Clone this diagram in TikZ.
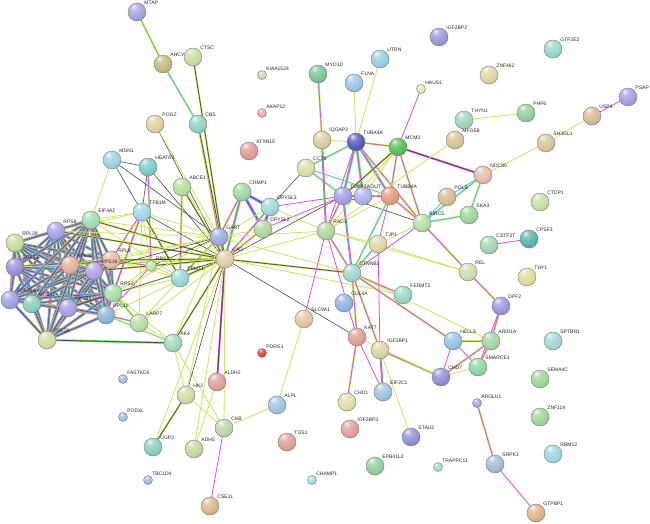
\documentclass[tikz,border=0pt]{standalone}
\usepackage{fontspec}
\setmainfont{Liberation Sans}
\usetikzlibrary{backgrounds}
\makeatletter
\pgfdeclareradialshading[tikz@ball]{sball}{\pgfqpoint{-10bp}{16bp}}{%
 color(0bp)=(tikz@ball!15!white); color(10bp)=(tikz@ball!75!white); color(26bp)=(tikz@ball); color(44bp)=(tikz@ball!82!black); color(56bp)=(tikz@ball!62!black); color(80bp)=(tikz@ball!55!black)}
\makeatother
\definecolor{cY}{HTML}{CCE65A}
\definecolor{cM}{HTML}{E448E4}
\definecolor{cK}{HTML}{4A4A4A}
\definecolor{cC}{HTML}{3CC8F0}
\definecolor{cG}{HTML}{44DD44}
\definecolor{cB}{HTML}{4040E0}
\tikzset{
 pnode/.style={circle,inner sep=0pt,draw=black!55,line width=0.35pt},
 lbl/.style={font=\fontsize{5}{6}\selectfont,inner sep=0.8pt,text=black!85},
 eY/.style={draw=cY,line width=0.8pt},
 eM/.style={draw=cM,line width=0.8pt},
 eK/.style={draw=cK,line width=0.6pt},
 eC/.style={draw=cC,line width=0.8pt},
 eG/.style={draw=cG,line width=0.8pt},
 dbl/.style 2 args={draw=#1,double=#2,line width=0.6pt,double distance=0.75pt},
 eYM/.style={dbl={cY}{cM}},
 eYK/.style={dbl={cY}{cK}},
 eYC/.style={dbl={cY}{cC}},
 eMK/.style={dbl={cM}{cK}},
 eMC/.style={dbl={cM}{cC}},
 eYG/.style={dbl={cY}{cG}},
 eMG/.style={dbl={cM}{cG}},
 eGK/.style={dbl={cG}{cK}},
}
\newcommand\pn[5][18pt]{\definecolor{nc#2}{HTML}{#5}\node[pnode,minimum size=#1,ball color=nc#2,shading=sball,label={[lbl]45:#2}] (#2) at (#3,#4) {};}
\newcommand\mx[2]{\draw[cY,line width=2.8pt](#1)--(#2);\draw[cC,line width=1.8pt](#1)--(#2);\draw[cM,line width=0.7pt](#1)--(#2);}
\newcommand\bx[2]{\draw[cM,line width=2.8pt](#1)--(#2);\draw[cC,line width=1.8pt](#1)--(#2);\draw[cB,line width=0.7pt](#1)--(#2);}
\newcommand\rx[2]{\draw[cY,line width=3pt](#1)--(#2);\draw[cM,line width=2.2pt](#1)--(#2);\draw[cC,line width=1.4pt](#1)--(#2);\draw[cK,line width=0.5pt](#1)--(#2);}
\begin{document}
\begin{tikzpicture}[x=1pt,y=-1pt]
\useasboundingbox (0,0) rectangle (650,524);
% left
\pn{MTAP}{137}{12}{A0A4E0}
\pn{AHCY}{163}{64}{C4BA80}
\pn{CTSC}{193}{57}{C4E0A0}
\pn{CBS}{198}{124}{90D4C4}
\pn{POGZ}{155}{124}{DCD2A0}
\pn{MDN1}{112}{160}{98D4E4}
\pn{HEATR1}{148}{167}{78CCC4}
\pn{ABCE1}{182}{187}{B4DE98}
\pn{TFB1M}{142}{212}{A0D4E6}
\pn{EIF4A2}{91}{220}{A0DCB2}
\pn{RPS8}{56}{231}{A8A0E6}
\pn{RPL29}{15}{243}{C4DE98}
\pn{RPS28}{15}{267}{9890DE}
\pn{RPL35}{70}{265}{E6AE9E}
\pn{RPL8}{111}{260}{E6BAA8}
\pn{RPS16}{94}{271}{B0A0EC}
\pn[11pt]{RRS1}{151}{266}{BCE4AA}
\pn{TRMT1}{180}{278}{98D6D6}
\pn{RPS2}{113}{293}{A8DEA8}
\pn{RPL36A}{10}{300}{A0A0E6}
\pn{RPS12}{32}{304}{88D0BC}
\pn{RPS19}{68}{308}{A8A0E6}
\pn{RPL11}{106}{315}{90B4D6}
\pn{LARP7}{139}{323}{B4DEA0}
\pn{RPL26}{47}{340}{CCDEA0}
\pn{AK4}{173}{343}{A0D6BC}
\pn{GART}{219}{237}{A0A8E6}
\pn{CAD}{225}{259}{E6CCA8}
\pn{CRMP1}{242}{192}{A0D6A0}
\pn{DPYSL3}{270}{207}{A0D6D6}
\pn{DPYSL2}{263}{229}{B4D6A0}
\pn{HK2}{186}{395}{CCDEA0}
\pn{ALDH2}{217}{382}{DEA0A0}
\pn{CKB}{224}{428}{BCD6AA}
\pn{ADH5}{194}{449}{C4D6A0}
\pn{UGP2}{153}{447}{88D0BC}
\pn[9pt]{FASTKD5}{123}{379}{A0BCE0}
\pn[9pt]{PODXL}{123}{417}{A0BCE0}
\pn[9pt]{TBC1D4}{148}{480}{A0BCE0}
\pn{CSE1L}{210}{506}{DEB490}
\pn{ALPL}{277}{405}{A0C4E0}
\pn{TGS1}{287}{442}{DEA098}
\pn[9pt]{CHAMP1}{312}{480}{A0DEDE}
\pn[9pt]{PDRG1}{262}{353}{E03C3C}
\pn[9pt]{KIAA1524}{262}{75}{C4E0A4}
\pn[9pt]{AKAP12}{262}{113}{EEAAAA}
\pn{ATXN10}{249}{151}{E49898}
\pn{SLC9A1}{304}{319}{E6C4A0}
% middle / right
\pn{MYO1D}{318}{74}{78C692}
\pn{FLNA}{354}{83}{A0C4E0}
\pn{UTRN}{380}{59}{98CEE0}
\pn{IQGAP2}{322}{140}{D6CEA0}
\pn{TUBA4A}{356}{142}{5858BC}
\pn{MCM3}{398}{147}{58BE58}
\pn{CCT8}{306}{168}{D6DEAA}
\pn{TUBB2A}{343}{196}{A0A0E6}
\pn{OUT}{363}{196}{A8B4E6}
\pn{TUBB4A}{390}{196}{E69C7C}
\pn{RAC3}{326}{231}{B4D6A0}
\pn{TJP1}{378}{244}{DED6A0}
\pn{BIRC5}{422}{223}{B4DEA8}
\pn{CTNNB1}{352}{273}{A0D6CC}
\pn{CUL4A}{344}{303}{90B4E0}
\pn{FERMT2}{403}{295}{98D6C4}
\pn{KAT7}{357}{337}{DEA090}
\pn{IGF2BP1}{380}{350}{D6D6A0}
\pn{CHD1}{347}{402}{DEDEAA}
\pn{IGF2BP3}{350}{429}{DEA0A0}
\pn{EIF2C1}{383}{392}{A0C4E0}
\pn{STAU2}{411}{437}{9090D6}
\pn{EPB41L2}{375}{466}{90CEA0}
\pn[9pt]{TRAPPC11}{438}{467}{A0DEBC}
\pn[9pt]{HAUS1}{421}{89}{E6E6AA}
\pn{IGF2BP2}{439}{37}{9898DE}
\pn{GTF2E2}{553}{49}{98D6CC}
\pn{ZNF462}{489}{75}{DED6A0}
\pn{THYN1}{464}{120}{A0D6BC}
\pn{PHF6}{526}{113}{90CEA0}
\pn{MFGE8}{455}{140}{D6C498}
\pn{USP4}{592}{116}{D6BC98}
\pn{PSAP}{628}{97}{A0A0DE}
\pn{SH3GL1}{546}{143}{D6C498}
\pn{NDC80}{483}{175}{E6BAA8}
\pn{POLB}{447}{197}{D6BC98}
\pn{SKA3}{469}{215}{A0D698}
\pn{CTDP1}{540}{202}{C4E0A0}
\pn{CSTF2T}{489}{245}{A0D6B4}
\pn{CPSF3}{529}{239}{58B4AC}
\pn{REL}{468}{272}{CCDEAA}
\pn{THY1}{527}{277}{DEDE98}
\pn{DPF2}{501}{306}{9898DE}
\pn{HELLS}{453}{341}{90C4E6}
\pn{ARID1A}{491}{341}{A0D6A0}
\pn{SPTBN1}{553}{341}{A0D6D6}
\pn{SMARCE1}{478}{367}{90D6A0}
\pn{CHD7}{441}{377}{9090D6}
\pn{SEMA4C}{540}{379}{A0D698}
\pn[9pt]{ARGLU1}{477}{403}{A8A8E6}
\pn{ZNF114}{540}{417}{A0D698}
\pn{RBM12}{553}{454}{A0D6E0}
\pn{SRPK1}{495}{464}{A0BCD6}
\pn{GTPBP1}{536}{513}{DEB488}
\begin{scope}[on background layer]
\fill[white] (0,0) rectangle (650,524);
% ribosomal cluster
\foreach \a [count=\i] in {RPS8,RPL29,RPS28,RPL35,RPL8,RPS16,RPS2,RPL36A,RPS12,RPS19,RPL11,RPL26,EIF4A2}{
 \foreach \b [count=\j] in {RPS8,RPL29,RPS28,RPL35,RPL8,RPS16,RPS2,RPL36A,RPS12,RPS19,RPL11,RPL26,EIF4A2}{
  \ifnum\i<\j \rx{\a}{\b}\fi }}
% top left
\draw[eYG] (MTAP)--(AHCY);
\draw[eYC] (AHCY)--(CBS);
\draw[eYM] (CBS)--(GART);
\draw[eYK] (CBS)--(CAD);
\draw[eYK] (CTSC)--(CAD);
\draw[eK] (POGZ)--(CAD);
\draw[eY] (POGZ)--(GART);
\draw[eK] (MDN1)--(HEATR1);
\draw[eY] (MDN1)--(EIF4A2);
\draw[eK] (MDN1)--(GART);
\draw[eK] (MDN1)--(TRMT1);
\draw[eYM] (HEATR1)--(RRS1);
\draw[eK] (HEATR1)--(CAD);
\draw[eK] (HEATR1)--(TFB1M);
\draw[eYM] (ABCE1)--(TRMT1);
\draw[eYK] (ABCE1)--(CAD);
\draw[eY] (ABCE1)--(GART);
\foreach \b in {EIF4A2,RPS8,RRS1,LARP7,GART} \draw[eY] (TFB1M)--(\b);
\draw[eYM] (TFB1M)--(RPL8); \draw[eYM] (TFB1M)--(RPS2);
\draw[eYK] (TFB1M)--(TRMT1); \draw[eM] (TFB1M)--(RPL11); \draw[eK] (TFB1M)--(CAD);
\draw[eY] (EIF4A2)--(GART); \draw[eYK] (EIF4A2)--(CAD); \draw[eY] (EIF4A2)--(TRMT1);
\draw[eY] (RRS1)--(TRMT1); \draw[eYM] (RRS1)--(RPL8); \draw[eY] (RRS1)--(RPS2);
\draw[eM] (RRS1)--(RPL11); \draw[eYK] (RRS1)--(CAD); \draw[eK] (RRS1)--(GART);
\draw[eY] (TRMT1)--(RPS2); \draw[eY] (TRMT1)--(RPL8); \draw[eYK] (TRMT1)--(CAD); \draw[eYK] (TRMT1)--(GART);
\draw[eYG] (LARP7)--(RPS2); \draw[eYM] (LARP7)--(RPL11); \draw[eY] (LARP7)--(AK4);
\draw[eY] (LARP7)--(CAD); \draw[eY] (LARP7)--(GART);
\draw[eGK] (AK4)--(RPL26); \draw[eG] (AK4)--(RPL11); \draw[eY] (AK4)--(RPS2);
\draw[eY] (AK4)--(HK2); \draw[eY] (AK4)--(CKB); \draw[eYK] (AK4)--(CAD); \draw[eY] (AK4)--(GART);
\draw[eYK] (CAD)--(RPS8); \draw[eK] (CAD)--(RPL35); \draw[eYK] (CAD)--(RPL8);
\draw[eYK] (CAD)--(RPS16); \draw[eY] (CAD)--(RPS2); \draw[eY] (CAD)--(RPL11);
\draw[eK] (CAD)--(RPS19); \draw[eY] (CAD)--(RPS28);
\draw[eY] (GART)--(RPS8); \draw[eY] (GART)--(RPL8); \draw[eK] (GART)--(RPS16);
\draw[eY] (GART)--(RPS2); \draw[eY] (GART)--(RPL35);
\draw[eYK] (GART)--(CAD);
% bottom left
\draw[eYK] (HK2)--(UGP2); \draw[eY] (HK2)--(CKB); \draw[eK] (HK2)--(CAD); \draw[eY] (HK2)--(GART);
\draw[eY] (ALDH2)--(ADH5); \draw[eMK] (ALDH2)--(CAD);
\draw[eM] (CKB)--(CSE1L); \draw[eY] (CKB)--(ALPL); \draw[eY] (CKB)--(CAD);
\draw[eY] (ADH5)--(CAD); \draw[eY] (UGP2)--(CAD);
\draw[eY] (ALPL)--(SLC9A1);
% crmp / dpysl
\bx{CRMP1}{DPYSL3} \bx{CRMP1}{DPYSL2} \bx{DPYSL3}{DPYSL2}
\draw[eYM] (CRMP1)--(GART); \mx{CRMP1}{CAD}
\draw[eYM] (DPYSL3)--(CAD); \draw[eYM] (DPYSL2)--(CAD);
\draw[eY] (DPYSL2)--(GART); \draw[eY] (DPYSL3)--(GART);
\draw[eM] (DPYSL3)--(TUBB2A); \draw[eM] (DPYSL2)--(TUBB2A);
\draw[eK] (DPYSL3)--(CCT8); \draw[eY] (DPYSL3)--(RAC3);
\draw[eY] (GART)--(RAC3); \draw[eK] (CAD)--(TUBB2A); \draw[eYK] (CAD)--(CTNNB1);
\draw[eK] (CAD)--(KAT7); \draw[eY] (CAD)--(FERMT2); \draw[eY] (GART)--(CTNNB1);
\draw[eY] (CAD)--(RAC3);
% tubulins
\draw[eYC] (CCT8)--(TUBA4A); \draw[eC] (CCT8)--(TUBB4A); \draw[eYC] (CCT8)--(TUBB2A);
\draw[eYM] (IQGAP2)--(MYO1D); \draw[eMG] (IQGAP2)--(RAC3); \draw[eY] (IQGAP2)--(TUBA4A);
\draw[eY] (FLNA)--(TUBA4A); \draw[eY] (UTRN)--(TUBA4A);
\draw[eM] (HAUS1)--(MCM3); \draw[eMK] (NDC80)--(MCM3);
\draw[eYM] (TUBA4A)--(MCM3);
\mx{TUBA4A}{TUBB2A} \mx{TUBA4A}{OUT} \mx{TUBA4A}{TUBB4A}
\draw[eM] (TUBA4A)--(RAC3); \draw[eYM] (TUBA4A)--(BIRC5);
\draw[eYK] (MCM3)--(TUBB2A); \draw[eY] (MCM3)--(OUT); \draw[eYM] (MCM3)--(TUBB4A);
\draw[eYM] (MCM3)--(BIRC5); \draw[eY] (MCM3)--(RAC3);
\mx{TUBB2A}{OUT} \mx{OUT}{TUBB4A}
\draw[eYM] (TUBB2A)--(RAC3); \draw[eMC] (TUBB2A)--(CTNNB1); \draw[eK] (TUBB2A)--(BIRC5);
\draw[eM] (TUBB4A)--(TJP1); \draw[eYM] (TUBB4A)--(BIRC5); \draw[eY] (TUBB4A)--(RAC3);
\draw[eYC] (TUBB4A)--(CTNNB1);
\draw[eY] (MFGE8)--(RAC3);
\draw[eYM] (RAC3)--(CTNNB1); \draw[eY] (RAC3)--(TJP1); \draw[eM] (RAC3)--(SLC9A1);
\draw[eM] (RAC3)--(KAT7); \draw[eY] (RAC3)--(REL);
\draw[eYC] (TJP1)--(CTNNB1); \draw[eM] (TJP1)--(IGF2BP1); \draw[eY] (TJP1)--(BIRC5);
\draw[eY] (TJP1)--(REL);
\draw[eC] (BIRC5)--(POLB); \draw[eYC] (BIRC5)--(SKA3); \draw[eYC] (BIRC5)--(NDC80);
\draw[eYM] (BIRC5)--(REL); \draw[eM] (BIRC5)--(CTNNB1);
\draw[eYC] (SKA3)--(NDC80); \draw[eC] (POLB)--(NDC80);
\draw[eY] (NDC80)--(SH3GL1); \draw[eY] (SH3GL1)--(USP4); \draw[eM] (USP4)--(PSAP);
\draw[eY] (THYN1)--(PHF6);
% chromatin
\draw[eYM] (REL)--(DPF2); \draw[eYM] (DPF2)--(ARID1A); \draw[eM] (DPF2)--(SMARCE1);
\draw[eYM] (HELLS)--(ARID1A); \draw[eM] (HELLS)--(SMARCE1); \draw[eM] (HELLS)--(CHD7);
\draw[eYM] (ARID1A)--(SMARCE1); \draw[eYM] (ARID1A)--(CHD7); \draw[eY] (SMARCE1)--(CHD7);
\draw[eYM] (CTNNB1)--(FERMT2); \draw[eYM] (CTNNB1)--(HELLS);
\draw[eYM] (CTNNB1)--(KAT7); \draw[eYM] (CTNNB1)--(IGF2BP1); \draw[eY] (CTNNB1)--(ARID1A);
\draw[eYM] (KAT7)--(CHD1); \draw[eM] (KAT7)--(EIF2C1); \draw[eMG] (IGF2BP1)--(EIF2C1);
\draw[eY] (IGF2BP1)--(STAU2); \draw[eYM] (IGF2BP1)--(CHD7); \draw[eY] (KAT7)--(CHD7);
\draw[eM] (CSTF2T)--(CPSF3); \draw[eYM] (ARGLU1)--(SRPK1); \draw[eM] (SRPK1)--(GTPBP1);
\end{scope}
\end{tikzpicture}
\end{document}
